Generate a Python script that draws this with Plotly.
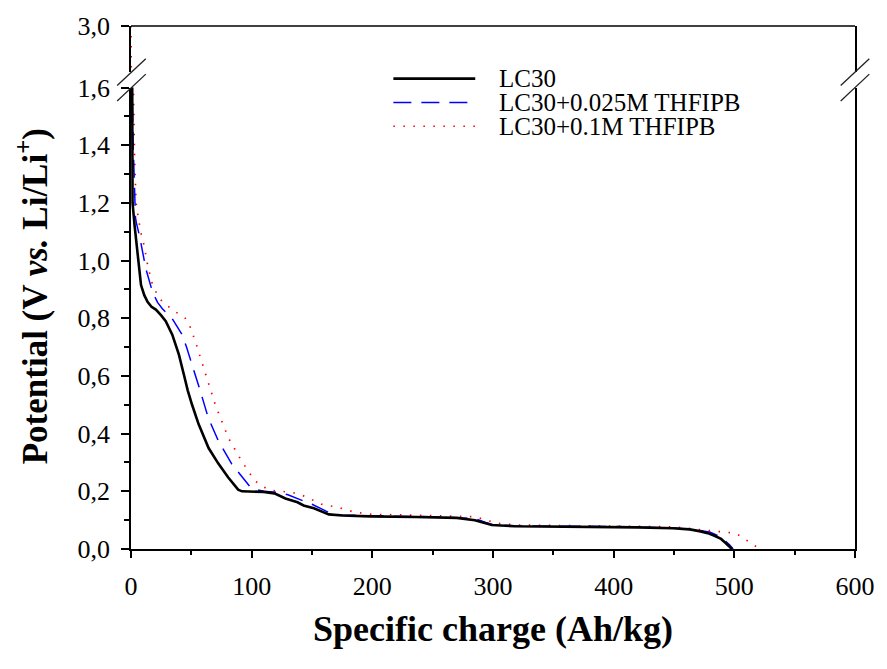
import plotly.graph_objects as go

# ---------------- data ----------------
lc30_q = [0, 0.7, 1.3, 3, 5.6, 8.3, 11, 13.7, 17, 20.6, 25, 28.8, 34.2, 39.7, 43.8, 47, 50.6, 56,
          64.3, 72.4, 80.6, 88.8, 92, 99.5, 110, 118.8, 128, 138, 143, 151.6, 158, 164, 175, 198,
          236, 252, 270, 285, 293, 299, 318, 383, 420, 449, 463, 471, 478, 484, 489, 493, 496, 498]
lc30_v = [3.0, 1.6, 1.2, 1.12, 1.03, 0.915, 0.88, 0.857, 0.84, 0.83, 0.81, 0.79, 0.743, 0.674,
          0.605, 0.55, 0.50, 0.433, 0.35, 0.296, 0.248, 0.206, 0.2, 0.2, 0.198, 0.193, 0.175,
          0.162, 0.151, 0.141, 0.13, 0.12, 0.116, 0.113, 0.111, 0.11, 0.108, 0.10, 0.09, 0.083,
          0.079, 0.078, 0.075, 0.072, 0.068, 0.062, 0.055, 0.045, 0.035, 0.02, 0.008, 0.0]

thf025_q = [0, 1.0, 1.8, 2.8, 3.7, 4.5, 7, 12.4, 17.9, 22, 26, 34, 42.4, 46, 50.6, 57.5, 64,
            72.4, 83.3, 94.3, 99.7, 110, 120, 130, 140, 150, 160, 166, 175, 200, 250, 285, 294,
            300, 320, 400, 450, 470, 480, 487, 492, 496, 499]
thf025_v = [3.0, 1.6, 1.4, 1.25, 1.15, 1.13, 1.087, 0.97, 0.89, 0.855, 0.833, 0.80, 0.743, 0.70,
            0.64, 0.547, 0.455, 0.375, 0.296, 0.237, 0.21, 0.2, 0.197, 0.188, 0.172, 0.155,
            0.135, 0.122, 0.118, 0.115, 0.112, 0.105, 0.092, 0.084, 0.08, 0.078, 0.073, 0.066,
            0.058, 0.045, 0.03, 0.015, 0.0]

thf1_q = [0, 2, 3, 4.2, 6, 8, 11, 14, 17.9, 22, 26, 31, 37, 45, 49, 53.4, 57, 61.6, 69.7, 80.6,
          91.5, 102.5, 110, 116, 125, 138, 146, 158, 171, 185, 200, 250, 285, 295, 302, 320,
          400, 450, 476, 492, 500.5, 505, 510, 515, 518, 521]
thf1_v = [3.0, 1.6, 1.35, 1.2, 1.15, 1.1, 1.05, 0.98, 0.915, 0.88, 0.857, 0.84, 0.822, 0.80,
          0.77, 0.719, 0.67, 0.609, 0.502, 0.386, 0.306, 0.237, 0.215, 0.203, 0.2, 0.193, 0.179,
          0.155, 0.145, 0.128, 0.12, 0.116, 0.112, 0.1, 0.09, 0.083, 0.08, 0.077, 0.065, 0.06,
          0.055, 0.045, 0.031, 0.015, 0.008, 0.0]

series_names = ["LC30", "LC30+0.025M THFIPB", "LC30+0.1M THFIPB"]
x_ticks = [0, 100, 200, 300, 400, 500, 600]

# ---------------- figure ----------------
W, H = 887, 669
ML, MR, MT, MB = 131, 22, 22, 120
PW, PH = W - ML - MR, H - MT - MB

def px2x(px):
    return (px - ML) / PW

def py2y(py):
    return (H - MB - py) / PH

FONT = "Liberation Serif, Times New Roman, serif"

styles = [
    dict(color="black", width=2.6, dash="solid"),
    dict(color="#0000ff", width=1.5, dash="18px,10px"),
    dict(color="#ff0000", width=1.7, dash="1.5px,8.5px"),
]
data = [(lc30_q, lc30_v), (thf025_q, thf025_v), (thf1_q, thf1_v)]

fig = go.Figure()
# draw red first, then blue, then black on top
for i in [2, 1, 0]:
    q, v = data[i]
    fig.add_trace(go.Scatter(x=q, y=v, mode="lines", line=styles[i], yaxis="y",
                             name=series_names[i], showlegend=False, hoverinfo="skip"))
# upper (broken) segment: only the dotted series is visible there
q, v = data[2]
fig.add_trace(go.Scatter(x=q, y=v, mode="lines", line=styles[2], yaxis="y2",
                         name=series_names[2], showlegend=False, hoverinfo="skip"))

low_top = 84
gap_bot = 68.5
axis_common = dict(showline=True, linecolor="black", linewidth=1.6, ticks="outside",
                   tickcolor="black", tickwidth=1.6, showgrid=False, zeroline=False,
                   tickfont=dict(family=FONT, size=26, color="black"))

fig.update_layout(
    width=W, height=H, margin=dict(l=ML, r=MR, t=MT, b=MB),
    plot_bgcolor="white", paper_bgcolor="white", separators=",.",
    showlegend=False,
    xaxis=dict(range=[0, 600], tickvals=x_ticks, ticklen=7, anchor="y",
               minor=dict(dtick=50, tick0=0, ticks="outside", ticklen=4, tickwidth=1.6, tickcolor="black"),
               ticklabelstandoff=6,
               title=dict(text="<b>Specific charge (Ah/kg)</b>", font=dict(family=FONT, size=36, color="black"), standoff=16),
               **axis_common),
    yaxis=dict(range=[0, 1.6], domain=[0, py2y(low_top)], dtick=0.2, tick0=0, tickformat=".1f",
               ticklen=8, mirror=True, anchor="x", ticklabelstandoff=6,
               minor=dict(dtick=0.1, tick0=0, ticks="outside", ticklen=5, tickwidth=1.6, tickcolor="black"),
               **axis_common),
    yaxis2=dict(range=[3.0 - (gap_bot - MT) / ((H - MB - low_top) / 1.6), 3.0],
                domain=[py2y(gap_bot), 1], tickvals=[3.0], tickformat=".1f", ticklen=8,
                mirror=True, anchor="x", ticklabelstandoff=6, **axis_common),
)

# y-axis title as annotation
fig.add_annotation(text="<b>Potential (V <i>vs.</i> Li/Li<sup>+</sup>)</b>", xref="paper", yref="paper",
                   x=px2x(32), y=py2y(294), textangle=-90, showarrow=False,
                   xanchor="center", yanchor="middle", font=dict(family=FONT, size=35, color="black"))

# top frame line
fig.add_shape(type="line", xref="paper", yref="paper", x0=0, x1=1, y0=1, y1=1,
              line=dict(color="black", width=1.6))

# axis break marks (left and right)
for xc in [ML + 0.5, ML + PW]:
    for yc in [gap_bot, low_top]:
        fig.add_shape(type="line", xref="paper", yref="paper",
                      x0=px2x(xc - 14.5), y0=py2y(yc + 13.5), x1=px2x(xc + 14.5), y1=py2y(yc - 13.5),
                      line=dict(color="#222222", width=1.3))

# manual legend
leg_rows = [75, 99, 123]
for i, yrow in enumerate(leg_rows):
    fig.add_shape(type="line", xref="paper", yref="paper",
                  x0=px2x(397), x1=px2x(480), y0=py2y(yrow), y1=py2y(yrow),
                  line=styles[i])
    fig.add_annotation(text=series_names[i], xref="paper", yref="paper",
                       x=px2x(502), y=py2y(yrow), xanchor="left", yanchor="middle",
                       showarrow=False, font=dict(family=FONT, size=25, color="black"))

fig.write_html("out.html")
